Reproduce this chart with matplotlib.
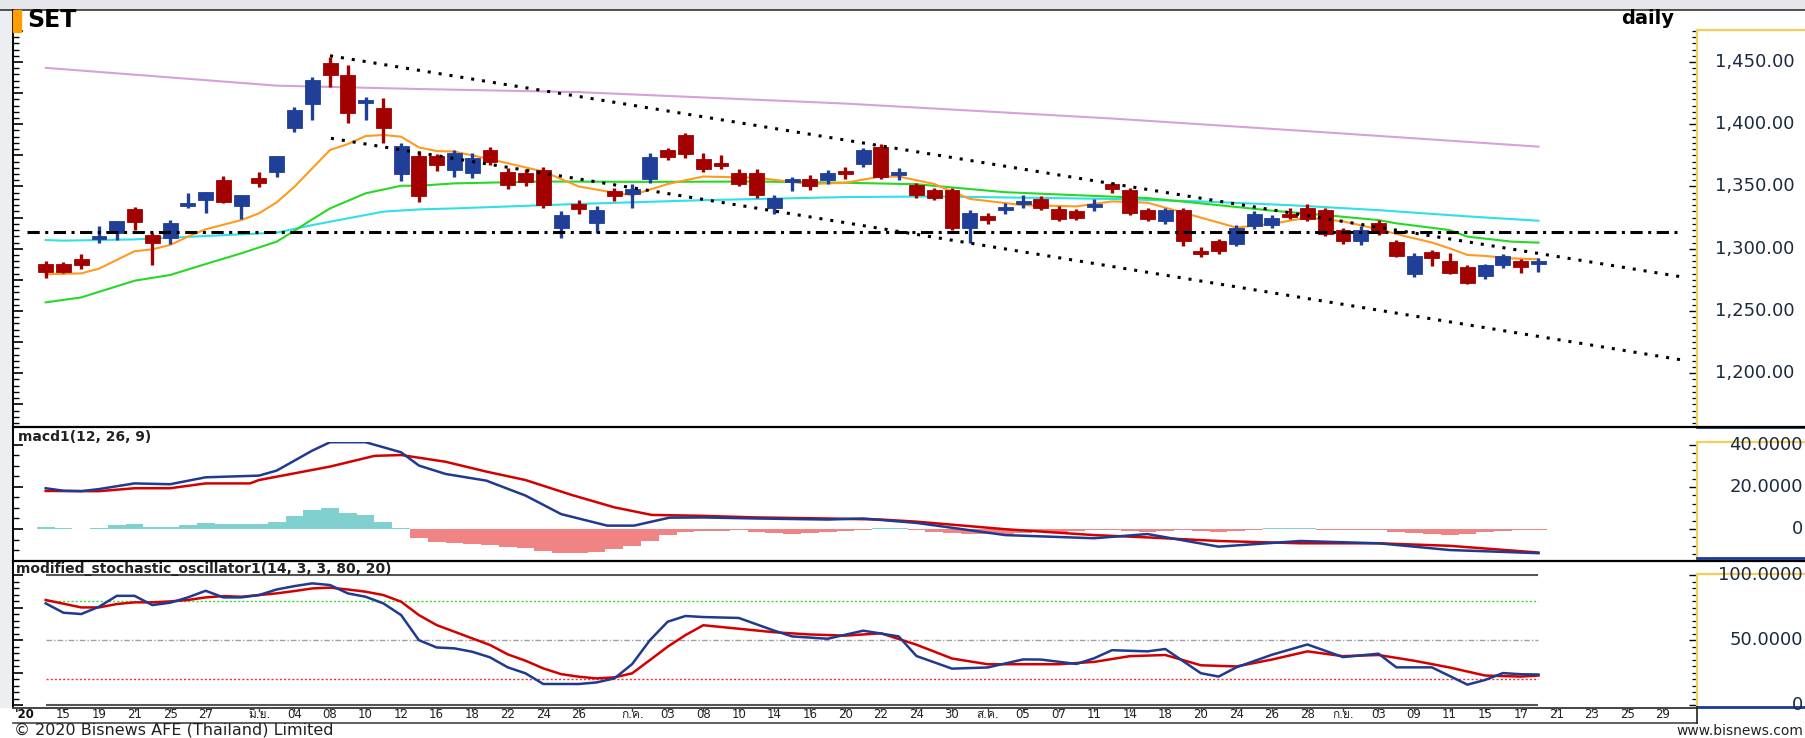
import numpy as np
import matplotlib
matplotlib.use("Agg")
import matplotlib.pyplot as plt
from matplotlib import font_manager, ft2font
from matplotlib.lines import Line2D
from matplotlib.patches import Rectangle
from matplotlib.ticker import MultipleLocator, NullLocator

W, H = 1805, 738

# ---------------- data (trading-day index 0 = 14 May 2020) ----------------
opens = [1287.7, 1287.5, 1291.7, 1308.6, 1312.4, 1331.6, 1311.0, 1308.3, 1335.2, 1339.1,
         1355.2, 1334.3, 1356.5, 1361.9, 1396.7, 1416.3, 1449.5, 1439.6, 1417.5, 1412.8,
         1360.0, 1374.5, 1374.5, 1363, 1361, 1379, 1362, 1361, 1363, 1317,
         1336, 1321, 1346, 1344, 1356, 1379, 1391, 1372, 1369, 1361,
         1361, 1333, 1354, 1356, 1355, 1362, 1368, 1382, 1360, 1351,
         1347, 1347, 1317, 1326, 1331, 1337, 1340, 1332, 1330, 1334,
         1352, 1347, 1331, 1322, 1331, 1298, 1306, 1304, 1318, 1319,
         1328, 1333, 1331, 1315, 1306, 1321, 1305.7, 1279.7, 1297.6, 1290.4,
         1285.6, 1278.1, 1286.9, 1290.4, 1288.5]
highs = [1290.4, 1289.6, 1295.7, 1318.2, 1322.5, 1333.8, 1312.4, 1323.1, 1345.0, 1345.6,
         1358.4, 1343.2, 1361.9, 1374.8, 1413.6, 1437.7, 1454.3, 1447.6, 1422.2, 1420.8,
         1385.2, 1378.0, 1376.1, 1379, 1377, 1382, 1365, 1364, 1366, 1330,
         1339, 1334, 1349, 1352, 1377, 1381, 1393, 1377, 1375, 1364,
         1364, 1343, 1358, 1359, 1363, 1366, 1381, 1384, 1365, 1353,
         1349, 1349, 1331, 1329, 1337, 1343, 1342, 1334, 1332, 1340,
         1354, 1349, 1333, 1333, 1333, 1301, 1308, 1319, 1330, 1327,
         1333, 1336, 1333, 1317, 1318, 1323, 1307, 1296.3, 1299, 1296.3,
         1286.9, 1287.5, 1295.8, 1291.5, 1292.3]
lows = [1276.2, 1280.2, 1283.7, 1304.9, 1307.0, 1315.0, 1286.9, 1303.8, 1332.4, 1328.4,
        1336.5, 1323.9, 1349.8, 1357.9, 1394.0, 1403.4, 1430.2, 1401.3, 1403.4, 1385.2,
        1354.7, 1337.8, 1362.7, 1358, 1357, 1367, 1348, 1350, 1333, 1309,
        1328, 1313, 1338, 1333, 1353, 1371, 1373, 1362, 1364, 1350,
        1341, 1328, 1346, 1347, 1352, 1356, 1366, 1356, 1355, 1341,
        1339, 1315, 1305, 1320, 1328, 1333, 1331, 1322, 1323, 1330,
        1345, 1327, 1322, 1320, 1302, 1293, 1296, 1302, 1316, 1317,
        1324, 1322, 1310, 1304, 1303, 1311, 1293, 1277, 1286.1, 1279.7,
        1271.7, 1275.4, 1284.2, 1280.8, 1281.6]
closes = [1281.0, 1281.0, 1286.9, 1309.7, 1322.3, 1321.7, 1304.3, 1320.9, 1336.2, 1345.3,
          1337.3, 1342.9, 1353.1, 1374.5, 1411.4, 1435.5, 1439.6, 1408.8, 1418.5, 1396.7,
          1382.5, 1342.3, 1367.3, 1376.6, 1373, 1370, 1351, 1354, 1335, 1327,
          1332, 1331, 1342, 1348, 1374, 1374, 1376, 1364, 1367, 1352,
          1343, 1341, 1356, 1350, 1361, 1360, 1379, 1358, 1361, 1343,
          1341, 1317, 1329, 1323, 1333, 1338, 1333, 1324, 1325, 1336,
          1348, 1329, 1324, 1331, 1306, 1296.5, 1298, 1317, 1328, 1325,
          1326, 1324, 1312, 1306, 1315, 1313, 1294.1, 1294.1, 1292.3, 1280.8,
          1272.7, 1286.6, 1294.1, 1285.6, 1289.5]

# moving averages, sampled at (day index, value)
ma_orange_x = [0, 2, 3, 5, 6, 7, 8, 9, 11, 12, 13, 14, 15, 16, 17, 18, 19, 20, 21, 22, 23, 25, 28, 30, 32, 33,
               35, 37, 40, 43, 45, 47, 48, 50, 52, 55, 58, 60, 62, 65, 67, 69, 71, 73, 75, 76.6, 78, 79, 80, 81, 82.5, 84]
ma_orange_y = [1279.5, 1280.2, 1284, 1298, 1299.5, 1303, 1309.7, 1315.6, 1323, 1328.4, 1337.3, 1349.8, 1364.6,
               1379.3, 1384.1, 1390.5, 1391.4, 1390, 1381.4, 1378.5, 1378, 1372, 1362, 1350, 1345, 1343,
               1352, 1358, 1357, 1352, 1353, 1358, 1358, 1352, 1340, 1335, 1334, 1338, 1337, 1325, 1317,
               1320, 1325, 1322, 1315.6, 1309.7, 1305, 1300.3, 1295, 1294.2, 1292.3, 1291.5]
ma_green_x = [0, 2, 5, 7, 9, 11, 13, 14, 15, 16, 18, 20, 21, 23, 28, 34, 40, 45, 49, 54, 58, 62, 66, 69, 72,
              75, 76, 79, 80, 82.5, 84]
ma_green_y = [1256.9, 1260.9, 1274.3, 1278.9, 1287.7, 1296.3, 1305.7, 1314.5, 1323.6, 1332.4, 1344.5, 1350.6,
              1350.6, 1352.5, 1354, 1353.7, 1354, 1353, 1351.8, 1345.4, 1343, 1340.7, 1335, 1330.6, 1327,
              1323, 1320.4, 1315, 1309.7, 1305.7, 1304.9]
ma_cyan_x = [0, 1, 5, 9, 13, 15, 17, 19, 21, 23, 30, 37, 45, 50, 55, 60, 65, 70, 75, 80, 84]
ma_cyan_y = [1307, 1306.5, 1307.5, 1310.2, 1312.9, 1319, 1324.4, 1329.8, 1331.6, 1332.4, 1336, 1339, 1341.5,
             1342, 1341, 1340, 1338, 1335, 1331, 1326, 1322.5]
ma_violet_x = [0, 13, 21, 30, 45, 60, 72, 84]
ma_violet_y = [1445.3, 1431, 1428.3, 1425.8, 1416.6, 1404.6, 1393.5, 1382]

trend_upper_x, trend_upper_y = [16.0, 92.1], [1455.0, 1277.3]
trend_lower_x, trend_lower_y = [16.05, 92.1], [1388.7, 1210.6]
support_x, support_y = [-1.05, 91.9], [1313.4, 1313.4]

# MACD
macd_x = [0, 1, 2, 3, 5, 7, 9, 12, 13, 15, 16, 18, 20, 21, 22.5, 24.8, 27, 29, 31.6, 33.1, 35.1, 37, 40, 44,
          46, 49, 54, 59, 62, 66, 70.6, 75, 79, 84]
macd_y = [19.4, 18.2, 18.0, 19.0, 21.7, 21.3, 24.6, 25.4, 27.8, 37.3, 41.3, 41.3, 36.5, 30.2, 26.2, 23, 15.9,
          7.1, 1.6, 1.6, 5.4, 5.5, 5, 4.5, 5, 2.9, -2.9, -4.4, -2.4, -8.4, -5.7, -6.8, -10, -11.5]
signal_x = [0, 3, 5, 7, 9, 11.5, 12, 16, 18.5, 20, 22.5, 24.8, 27, 29.6, 32, 34.1, 36.8, 40, 44, 47, 49, 54,
            59, 62, 66, 70.6, 75, 79, 84]
signal_y = [18.1, 18, 19.4, 19.4, 21.7, 21.7, 23.3, 29.7, 34.8, 35.2, 32, 27.3, 23.3, 16.2, 10.3, 6.7, 6.3,
            5.5, 5.0, 4.5, 3.5, -0.1, -2.9, -4, -5.7, -6.8, -6.8, -8, -11.2]
macd_hist = [1.1, 0.3, -0.2, 0.6, 1.9, 2.4, 1.1, 1.1, 1.9, 2.7, 2.4, 2.4, 2.4, 3.5, 6.2, 9.0, 10.2, 7.5, 6.7, 3.5,
             0.6, -4.4, -6.0, -6.8, -7.1, -7.6, -8.4, -9.2, -10.3, -11.3, -11.3, -10.8, -9.7, -8.1, -5.6, -2.9,
             -1.3, -1.0, -0.8, -0.6, -1.5, -2.0, -2.2, -2.0, -1.5, -1.0, -0.3, 0.4, 0.3, -0.4, -1.2, -2.0,
             -2.5, -2.4, -2.2, -2.0, -1.6, -1.2, -0.8, -0.5, -0.3, -0.8, -1.2, -1.0, -0.6, -1.0, -1.5, -1.0,
             -0.3, 0.4, 0.6, 0.3, -0.3, -0.5, -0.4, -0.6, -1.2, -2.0, -2.6, -2.8, -2.2, -1.4, -0.8, -0.5, -0.4]

# modified stochastic oscillator
stoch_k_x = list(range(0, 38)) + [39, 41, 42, 44, 46, 48, 49, 51, 53, 55, 56, 58, 59, 60, 62, 63, 65, 66, 67,
                                  69, 71, 73, 75, 76, 78, 80, 81, 82, 83, 84]
stoch_k_y = [78.2, 71, 70, 75.6, 84, 84, 76.9, 78.7, 82.8, 87.9, 82.8, 82.8, 84.6, 88.9, 91.5, 93.6, 92.3, 85.9,
             83.3, 78.2, 69.2, 49.9, 44.3, 43.6, 41, 36.7, 29, 24.4, 16.2, 16.2, 16.2, 17.4, 20.5, 31.5, 49.9,
             64.1, 68.5, 67.7, 67, 57.2, 52.8, 51, 57.2, 52.8, 37.7, 28, 28.9, 35.1, 35, 31.6, 36, 42.2, 41.3,
             43.1, 24.5, 21.9, 29, 38.7, 46.6, 36.9, 39.5, 29, 29, 15.7, 19.3, 24.6, 23.7, 23.5]
stoch_d_x = [0] + list(range(2, 37)) + [37, 39, 41, 43, 45, 47, 49, 51, 53, 55, 57, 59, 61, 63, 65, 67, 69, 71,
                                        73, 75, 77, 79, 81, 83, 84]
stoch_d_y = [80.8, 75.1, 75.1, 77.7, 79, 79, 79.7, 80.8, 82.8, 83.8, 83.3, 84.6, 85.9, 87.7, 89.7, 90.3, 88.9,
             87.2, 84.6, 79.5, 69.2, 61.5, 56.4, 51.3, 46.2, 39, 34.1, 28.2, 23.8, 21.8, 20.5, 21.3, 24.4, 34.6,
             44.9, 53.8, 61.4, 58.7, 56, 54.3, 53.4, 55.2, 46.4, 35.8, 31.4, 31.4, 31.4, 33.2, 37.6, 38.5, 30.6,
             29.7, 35, 41.3, 37.6, 38.5, 34.1, 28.9, 22.7, 21.9, 22.7]
stoch_levels = [80, 50, 20]

# date axis labels (every other trading day, month name on the 1st trading day)
date_labels = ["15", "19", "21", "25", "27", "มิ.ย.", "04", "08", "10", "12", "16", "18", "22", "24", "26",
               "ก.ค.", "03", "08", "10", "14", "16", "20", "22", "24", "30", "ส.ค.", "05", "07", "11", "14",
               "18", "20", "24", "26", "28", "ก.ย.", "03", "09", "11", "15", "17", "21", "23", "25", "29"]
date_idx = [1, 3, 5, 7, 9, 12, 14, 16, 18, 20, 22, 24, 26, 28, 30, 33, 35, 37, 39, 41, 43, 45, 47, 49, 51, 53,
            55, 57, 59, 61, 63, 65, 67, 69, 71, 73, 75, 77, 79, 81, 83, 85, 87, 89, 91]

price_ticks = [1200, 1250, 1300, 1350, 1400, 1450]
macd_ticks = [0, 20, 40]
stoch_ticks = [0, 50, 100]

assert len(opens) == len(highs) == len(lows) == len(closes) == len(macd_hist) == 85
assert len(stoch_k_x) == len(stoch_k_y) and len(stoch_d_x) == len(stoch_d_y)
assert len(macd_x) == len(macd_y) and len(signal_x) == len(signal_y)
assert len(date_labels) == len(date_idx)


# ---------------- fonts ----------------
def thai_family():
    for f in font_manager.fontManager.ttflist:
        try:
            if 0x0E21 in ft2font.FT2Font(f.fname).get_charmap():
                return f.name
        except Exception:
            continue
    return None


thai = thai_family()
fam = ["DejaVu Sans"] + ([thai] if thai else [])
plt.rcParams["font.family"] = fam

BLUE = "#1f3f99"
RED = "#a30000"


def fx(x):
    return x / W


def fy(y):
    return 1 - y / H


fig = plt.figure(figsize=(W / 100, H / 100), dpi=100)
fig.patch.set_facecolor("white")


def add_ax(x0, y0, x1, y1):
    return fig.add_axes([fx(x0), fy(y1), (x1 - x0) / W, (y1 - y0) / H])


def fline(x0, y0, x1, y1, **kw):
    fig.add_artist(Line2D([fx(x0), fx(x1)], [fy(y0), fy(y1)], **kw))


# window chrome in the background
fig.add_artist(Rectangle((0, fy(9)), 1, 9 / H, transform=fig.transFigure, color="#e4e6ea", zorder=0))
fig.add_artist(Rectangle((0, fy(707)), fx(12), (707 - 9) / H, transform=fig.transFigure, color="#eceef1",
                         zorder=0))

XL = (-1.84, 92.92)
ax1 = add_ax(13, 30, 1697, 427)
ax2 = add_ax(13, 442, 1697, 558)
ax3 = add_ax(13, 574, 1697, 707)
for ax, lo, hi, maj in [(ax1, 1156.8, 1475.7, 25), (ax2, -13.8, 41.4, 20), (ax3, -1.5, 100.8, 25)]:
    ax.set_xlim(*XL)
    ax.set_ylim(lo, hi)
    ax.patch.set_alpha(0)
    for s in ax.spines.values():
        s.set_visible(False)
    ax.xaxis.set_major_locator(NullLocator())
    ax.yaxis.set_major_locator(MultipleLocator(maj))
    ax.yaxis.set_minor_locator(MultipleLocator(5))
    ax.tick_params(axis="y", which="major", direction="in", length=7, width=1.2, labelleft=False)
    ax.tick_params(axis="y", which="minor", direction="in", length=4, width=1.0)

# ---------------- price panel ----------------
mx = [ma_violet_x, ma_cyan_x, ma_green_x, ma_orange_x]
my = [ma_violet_y, ma_cyan_y, ma_green_y, ma_orange_y]
mc = ["#d7a0d9", "#2fe0e6", "#26d926", "#ff9a1f"]
for xs, ys, c in zip(mx, my, mc):
    ax1.plot(xs, ys, color=c, lw=1.5, zorder=2)

for i in range(len(opens)):
    o, h, l, c = opens[i], highs[i], lows[i], closes[i]
    col = BLUE if c >= o else RED
    ax1.vlines(i, l, h, color=col, lw=2.4, zorder=3)
    bot, top = min(o, c), max(o, c)
    if top - bot < 2.4:
        mid = (top + bot) / 2
        bot, top = mid - 1.2, mid + 1.2
    ax1.add_patch(Rectangle((i - 0.42, bot), 0.84, top - bot, facecolor=col, edgecolor=col, lw=0.6, zorder=3))

ax1.plot(trend_upper_x, trend_upper_y, color="black", lw=2.2, ls=(0, (1, 2.6)), zorder=4)
ax1.plot(trend_lower_x, trend_lower_y, color="black", lw=2.2, ls=(0, (1, 2.6)), zorder=4)
ax1.plot(support_x, support_y, color="black", lw=2.2, ls=(0, (4, 1.8, 1, 1.8)), zorder=4)

# ---------------- MACD panel ----------------
hcol = ["#7fd0ce" if v >= 0 else "#f08383" for v in macd_hist]
ax2.bar(range(len(macd_hist)), macd_hist, width=1.0, color=hcol, zorder=1)
ax2.plot(macd_x, macd_y, color="#1f3a8f", lw=1.8, zorder=3)
ax2.plot(signal_x, signal_y, color="#d40000", lw=1.8, zorder=2)

# ---------------- stochastic panel ----------------
ax3.hlines([0, 100], 0, 84, color="#555555", lw=1.5, zorder=1)
ax3.hlines(stoch_levels[0], 0, 84, color="#33dd33", lw=1.0, ls=(0, (1.5, 1.5)), zorder=1)
ax3.hlines(stoch_levels[1], 0, 84, color="#a0a0a0", lw=1.0, ls=(0, (4, 1.5, 1, 1.5)), zorder=1)
ax3.hlines(stoch_levels[2], 0, 84, color="#ee3333", lw=1.0, ls=(0, (1.5, 1.5)), zorder=1)
ax3.plot(stoch_k_x, stoch_k_y, color="#1f3a8f", lw=1.8, zorder=3)
ax3.plot(stoch_d_x, stoch_d_y, color="#d40000", lw=1.8, zorder=2)

# ---------------- right value boxes ----------------
YEL = "#f3cf57"
r1 = add_ax(1697, 30, 1805, 427)
r2 = add_ax(1697, 442, 1805, 558)
r3 = add_ax(1697, 574, 1805, 707)
boxes = [(r1, ax1, 50, 5, price_ticks, lambda v: f"{v:,.2f}", "left", 1715),
         (r2, ax2, 20, 4, macd_ticks, lambda v: "0" if v == 0 else f"{v:.4f}", "right", 1803),
         (r3, ax3, 50, 5, stoch_ticks, lambda v: "0" if v == 0 else f"{v:.4f}", "right", 1803)]
for r, src, maj, mnr, ticks, fmt, ha, xpos in boxes:
    r.set_ylim(src.get_ylim())
    r.set_xlim(0, 1)
    r.xaxis.set_major_locator(NullLocator())
    r.yaxis.set_major_locator(MultipleLocator(maj))
    r.yaxis.set_minor_locator(MultipleLocator(mnr))
    r.tick_params(axis="y", which="major", direction="out", length=6, width=1.0, labelleft=False)
    r.tick_params(axis="y", which="minor", direction="out", length=3.5, width=0.9)
    r.spines["right"].set_visible(False)
    r.spines["left"].set_color(YEL)
    r.spines["top"].set_color(YEL)
    r.spines["left"].set_linewidth(1.6)
    r.spines["top"].set_linewidth(1.6)
    r.spines["bottom"].set_color("#1a3a9a")
    r.spines["bottom"].set_linewidth(2.0)
    for v in ticks:
        r.text((xpos - 1697) / (W - 1697), v, fmt(v), transform=r.get_yaxis_transform(), ha=ha,
               va="center", fontsize=13, color="#1c2a40", clip_on=False)

# ---------------- frame, headers and date row ----------------
fline(0, 9.5, W, 9.5, color="#333333", lw=1.2)
fline(13, 9.5, 13, 707, color="black", lw=1.4)
fline(13, 427.5, W, 427.5, color="black", lw=1.6)
fline(13, 560.5, W, 560.5, color="black", lw=1.6)
fline(13, 708, 1697, 708, color="#444444", lw=1.4)
fline(13, 722.5, 1697, 722.5, color="#444444", lw=1.2)
fline(1697, 707, 1697, 722.5, color="#222222", lw=1.2)

fig.add_artist(Rectangle((fx(13), fy(32)), 8 / W, 22 / H, transform=fig.transFigure, color="#ff9d00",
                         zorder=5))
fig.text(fx(27), fy(20), "SET", fontsize=17, fontweight="bold", ha="left", va="center", color="black")
fig.text(fx(1648), fy(19), "daily", fontsize=14, fontweight="bold", ha="center", va="center",
         color="black")
fig.text(fx(18), fy(437), "macd1(12, 26, 9)", fontsize=10, fontweight="bold", ha="left", va="center",
         color="#222222")
fig.text(fx(16), fy(569), "modified_stochastic_oscillator1(14, 3, 3, 80, 20)", fontsize=10,
         fontweight="bold", ha="left", va="center", color="#222222")

row_y = (707 - 714.5) / (707 - 574)
ax3.text(-1.72, row_y, "'20", transform=ax3.get_xaxis_transform(), fontsize=8.5, fontweight="bold",
         ha="left", va="center", color="#111111", clip_on=False)
for lab, i in zip(date_labels, date_idx):
    ax3.text(i, row_y, lab, transform=ax3.get_xaxis_transform(), fontsize=8.5, ha="center", va="center",
             color="#222222", clip_on=False)
    xpix = 45.7 + 17.77 * i
    fline(xpix, 708, xpix, 711, color="#444444", lw=1.0)

fig.text(fx(14), fy(730), "© 2020 Bisnews AFE (Thailand) Limited", fontsize=11.5, ha="left", va="center",
         color="#222222")
fig.text(fx(1803), fy(731), "www.bisnews.com", fontsize=10, ha="right", va="center", color="#222222")

fig.savefig("out.png", dpi=100)
